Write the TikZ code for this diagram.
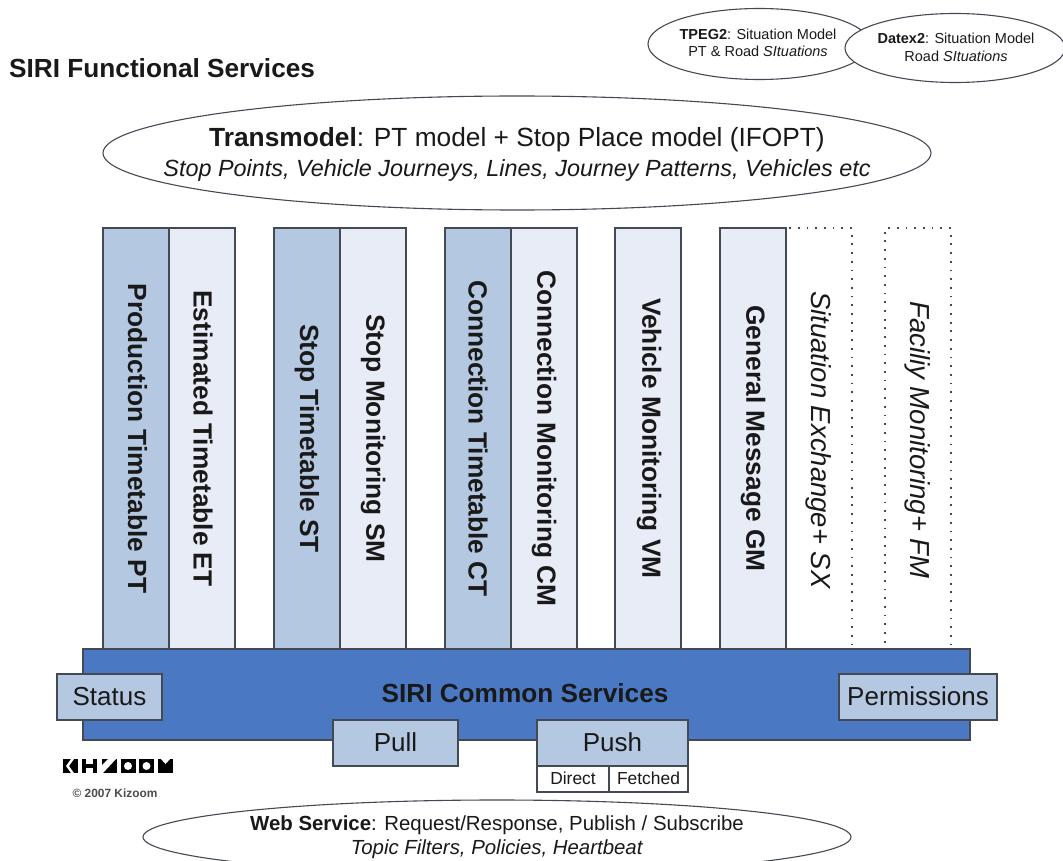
\documentclass[tikz,border=0pt]{standalone}
\usepackage{fontspec}
\setmainfont{Liberation Sans}
\usepackage{tikz}
\usetikzlibrary{shapes.geometric}
\definecolor{linegrey}{HTML}{434A54}
\definecolor{midblue}{HTML}{4A78C2}
\definecolor{softblue}{HTML}{B4C8E1}
\definecolor{paleblue}{HTML}{E8ECF6}
\newcommand{\fsz}[1]{\fontsize{#1}{#1}\selectfont}

\begin{document}
\begin{tikzpicture}[
  x=1pt, y=-1pt,
  every node/.style={inner sep=0pt, text=black!90},
  column/.style={draw=linegrey, line width=1.1pt, minimum width=66pt, minimum height=421pt},
  coldark/.style={column, fill=softblue},
  collight/.style={column, fill=paleblue},
  coldot/.style={draw=linegrey, line width=1.6pt, dash pattern=on 1.8pt off 6.9pt, minimum width=66pt, minimum height=421pt},
  bartext/.style={rotate=-90, font=\fsz{26.3}\bfseries},
  dottext/.style={rotate=-90, font=\fsz{27.5}\itshape},
  tab/.style={draw=linegrey, line width=1.1pt, fill=softblue, font=\fsz{26}, minimum height=46pt},
  subtab/.style={draw=linegrey, line width=1.1pt, fill=white, font=\fsz{17.4}, minimum height=26pt},
  model/.style={draw=linegrey, line width=1.1pt, fill=white, ellipse},
  modeltext/.style={align=center}
]
\clip (0,0) rectangle (1063,861);
\fill[white] (0,0) rectangle (1063,861);

\node[anchor=west, font=\fsz{26.2}\bfseries] (title) at (9,68) {SIRI Functional Services};

% small models, top right
\node[model, minimum width=222pt, minimum height=71pt] (tpeg) at (759,44) {};
\node[modeltext, font=\fsz{14.5}] (tpeglabel) at (758,43)
  {\textbf{TPEG2}: Situation Model\\[2.5pt]PT \& Road \textit{SItuations}};
\node[model, minimum width=220pt, minimum height=69pt] (datex) at (955,48) {};
\node[modeltext, font=\fsz{14.5}] (datexlabel) at (956,47.5)
  {\textbf{Datex2}: Situation Model\\[3pt]Road \textit{SItuations}};

\node[model, minimum width=828pt, minimum height=114pt] (transmodel) at (517,153) {};
\node[modeltext, font=\fsz{26.3}] (transmodellabel) at (517,154.5)
  {\textbf{Transmodel}: PT model + Stop Place model (IFOPT)\\[4pt]{\fsz{23.4}\textit{Stop Points, Vehicle Journeys, Lines, Journey Patterns, Vehicles etc}}};

% service columns
\node[coldark] (pt) at (136,438.5) {};
\node[collight] (et) at (202,438.5) {};
\node[coldark] (st) at (307,438.5) {};
\node[collight] (sm) at (373,438.5) {};
\node[coldark] (ct) at (478,438.5) {};
\node[collight] (cm) at (544,438.5) {};
\node[collight] (vm) at (648,438.5) {};
\node[collight] (gm) at (753,438.5) {};
\node[coldot] (sx) at (819,438.5) {};
\node[coldot] (fm) at (918,438.5) {};

\node[bartext] (ptlabel) at (137.5,438.5) {Production Timetable PT};
\node[bartext] (etlabel) at (203,438.5) {Estimated Timetable ET};
\node[bartext] (stlabel) at (307,438.5) {Stop Timetable ST};
\node[bartext] (smlabel) at (373,438.5) {Stop Monitoring SM};
\node[bartext] (ctlabel) at (478,438.5) {Connection Timetable CT};
\node[bartext] (cmlabel) at (544,438.5) {Connection Monitoring CM};
\node[bartext] (vmlabel) at (649,438.5) {Vehicle Monitoring VM};
\node[bartext] (gmlabel) at (753,438.5) {General Message GM};
\node[dottext] (sxlabel) at (819,440) {Situation Exchange+ SX};
\node[dottext] (fmlabel) at (918,440) {Faciliy Monitoring+ FM};

% common services
\node[draw=linegrey, line width=1.1pt, fill=midblue, minimum width=887pt, minimum height=91pt] (common) at (526.5,694.5) {};
\node[font=\fsz{26.2}\bfseries] (commonlabel) at (525,693) {SIRI Common Services};
\node[tab, minimum width=105pt] (status) at (109.5,697) {\raisebox{1pt}{Status}};
\node[tab, minimum width=158pt] (permissions) at (918,697) {\raisebox{1pt}{Permissions}};
\node[tab, minimum width=125pt] (pull) at (395.5,743) {\raisebox{2.5pt}{Pull}};
\node[tab, minimum width=151pt] (push) at (612.5,743) {\raisebox{2pt}{Push}};
\node[subtab, minimum width=72pt] (direct) at (573,779) {\raisebox{1pt}{Direct}};
\node[subtab, minimum width=79pt] (fetched) at (648.5,779) {\raisebox{1pt}{Fetched}};

% logo
\foreach \x in {63,82,102,121,139,158}
  \fill[black] (\x,759) rectangle +(15,14);
\fill[white] (71,759) -- (66,766) -- (71,773) -- (74,773) -- (69,766) -- (74,759) -- cycle;
\fill[white] (86,759) rectangle (93,764);
\fill[white] (86,768) rectangle (93,773);
\fill[white] (102,773) -- (102,765) -- (108,759) -- (116,759) -- (116,759) -- (103,773) -- cycle;
\fill[white] (128,766) circle (4);
\fill[white] (146.5,766) circle (4);
\fill[white] (161,759) -- (170,759) -- (165.5,764) -- cycle;
\node[font=\fsz{11.9}\bfseries, text=black!70] (copy) at (115,793) {© 2007 Kizoom};

\node[model, minimum width=708pt, minimum height=74pt] (web) at (497,837) {};
\node[modeltext, font=\fsz{20.4}] (weblabel) at (497,837)
  {\textbf{Web Service}: Request/Response, Publish / Subscribe\\[3.5pt]\textit{Topic Filters, Policies, Heartbeat}};
\end{tikzpicture}
\end{document}
